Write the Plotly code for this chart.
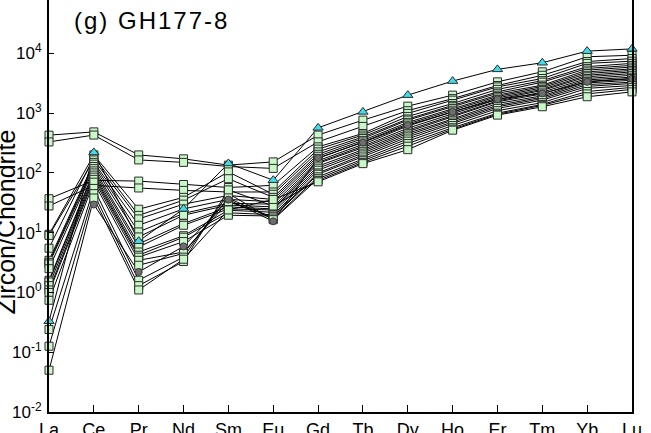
import plotly.graph_objects as go

# Chondrite-normalised REE patterns of zircon spots, sample GH177-8
elements = ["La", "Ce", "Pr", "Nd", "Sm", "Eu", "Gd", "Tb", "Dy", "Ho", "Er", "Tm", "Yb", "Lu"]

spot_01 = [428, 486, 200, 172, 135, 153, 430, 764, 1310, 2000, 3340, 4920, 8780, 9300]
spot_02 = [330, 430, 165, 150, 128, 119, 331, 600, 1100, 1750, 2900, 4300, 7300, 8200]
spot_03 = [37, 75, 73, 64, 57, 62, 273, 457, 990, 1650, 2750, 3800, 6800, 7400]
spot_04 = [28, 62, 56, 51, 48, 48, 250, 430, 880, 1450, 2500, 3500, 6000, 6800]
spot_05 = [9.4, 200, 24.7, 39, 104, 44, 225, 400, 800, 1350, 2270, 3300, 5600, 6300]
spot_06 = [5.5, 185, 19.5, 35, 80, 39, 205, 377, 764, 1280, 2150, 2940, 5250, 5900]
spot_07 = [9.0, 165, 17, 30, 42, 36, 190, 350, 700, 1200, 2000, 2800, 4900, 5500]
spot_08 = [3.45, 150, 13.3, 25, 36, 33, 175, 330, 660, 1120, 1900, 2650, 4600, 5200]
spot_09 = [3.2, 140, 10.3, 21, 31, 30, 160, 300, 610, 1050, 1800, 2500, 4300, 4900]
spot_10 = [3.0, 128, 8.5, 19.6, 29, 27, 150, 280, 560, 980, 1700, 2400, 4060, 4600]
spot_11 = [2.5, 118, 6.5, 14.2, 27, 25, 144, 265, 519, 920, 1600, 2250, 3800, 4300]
spot_12 = [1.6, 108, 5.75, 13.3, 25, 24, 130, 245, 490, 867, 1550, 2100, 3600, 4000]
spot_13 = [1.5, 100, 4.75, 8.9, 23.7, 22, 120, 230, 460, 800, 1450, 1950, 3400, 3800]
spot_14 = [1.3, 92, 4.2, 8.4, 21.5, 20, 111, 215, 430, 760, 1350, 1850, 3200, 3550]
spot_15 = [1.1, 85, 3.9, 7.1, 19.6, 19, 100, 200, 401, 710, 1280, 1750, 3000, 3300]
spot_16 = [1.0, 78, 3.45, 4.75, 33, 18.3, 95, 185, 370, 671, 1200, 1650, 2800, 3140]
spot_17 = [0.74, 70, 2.85, 4.5, 38, 17, 86, 170, 340, 620, 1100, 1500, 2600, 2900]
spot_18 = [0.24, 55, 1.6, 3.9, 45, 16.5, 80, 160, 310, 570, 1000, 1400, 2300, 2700]
spot_19 = [0.126, 45, 1.3, 3.3, 52, 28, 75, 150, 280, 540, 960, 1350, 2100, 2500]
spot_20 = [0.05, 38, 1.1, 3.6, 24, 36, 71, 143, 245, 519, 927, 1280, 1880, 2270]

# grey-circle and cyan-triangle spots
spot_circle = [None, 29.6, 2.2, 5.9, 35.8, 15.5, 178, 323, 630, 1050, 1710, 2140, 3340, 3760]
spot_triangle = [0.33, 220, 7.2, 25, 144, 75.6, 568, 1050, 2000, 3440, 5400, 6970, 10900, 11900]

# y-axis decades and their labels
y_tickvals = [0.01, 0.1, 1, 10, 100, 1000, 10000]
y_ticktext = ["10<sup>-2</sup>", "10<sup>-1</sup>", "10<sup>0</sup>", "10<sup>1</sup>",
              "10<sup>2</sup>", "10<sup>3</sup>", "10<sup>4</sup>"]

square_spots = [spot_01, spot_02, spot_03, spot_04, spot_05, spot_06, spot_07, spot_08,
                spot_09, spot_10, spot_11, spot_12, spot_13, spot_14, spot_15, spot_16,
                spot_17, spot_18, spot_19, spot_20]

x_pos = list(range(len(elements)))
FONT = "Liberation Sans, Arial, sans-serif"

fig = go.Figure()

all_spots = square_spots + [spot_circle, spot_triangle]

# connecting lines first, so every marker sits above every line
for s in all_spots:
    fig.add_trace(go.Scatter(x=x_pos, y=s, mode="lines", connectgaps=False,
                             line=dict(color="black", width=1),
                             showlegend=False, hoverinfo="skip", cliponaxis=False))

for s in square_spots:
    fig.add_trace(go.Scatter(x=x_pos, y=s, mode="markers", showlegend=False, cliponaxis=False,
                             marker=dict(symbol="square", size=8, color="#c8f7c8",
                                         line=dict(color="#2b2b2b", width=1))))

fig.add_trace(go.Scatter(x=x_pos, y=spot_circle, mode="markers", showlegend=False, cliponaxis=False,
                         marker=dict(symbol="circle", size=7, color="#6e6e6e",
                                     line=dict(color="#3a3a3a", width=1))))
fig.add_trace(go.Scatter(x=x_pos, y=spot_triangle, mode="markers", showlegend=False, cliponaxis=False,
                         marker=dict(symbol="triangle-up", size=9, color="#3fdcec",
                                     line=dict(color="#2b2b2b", width=1))))

fig.update_layout(
    width=651, height=433,
    margin=dict(l=49, r=19, t=0, b=21, autoexpand=False),
    paper_bgcolor="white", plot_bgcolor="white",
    font=dict(family=FONT, color="black"),
    xaxis=dict(range=[0, 13], tickvals=x_pos, ticktext=elements,
               ticks="inside", ticklen=7, tickwidth=1, tickcolor="black",
               showline=True, linewidth=2, linecolor="black", mirror=False,
               showgrid=False, zeroline=False, tickfont=dict(size=18, family=FONT),
               automargin=False, ticklabelstandoff=0),
    yaxis=dict(type="log", range=[-2, 4.893], tickvals=y_tickvals, ticktext=y_ticktext,
               ticks="inside", ticklen=5, tickwidth=1, tickcolor="black",
               showline=True, linewidth=2, linecolor="black", mirror=True,
               showgrid=False, zeroline=False, tickfont=dict(size=17, family=FONT),
               automargin=False, ticklabelstandoff=2),
    annotations=[
        dict(text="(g) GH177-8", xref="paper", yref="paper", x=0.0596, y=0.9866,
             xanchor="left", yanchor="top", showarrow=False, borderpad=0,
             font=dict(size=24, family=FONT)),
        dict(text="Zircon/Chondrite", xref="paper", yref="paper", x=-0.073, y=0.461,
             xanchor="center", yanchor="middle", textangle=-90, showarrow=False,
             borderpad=0, font=dict(size=25, family=FONT)),
    ],
)

# widen the tracking of the panel title
title_spacing = (
    "document.querySelectorAll('.annotation[data-index=\"0\"] .annotation-text')"
    ".forEach(function(t){t.style.letterSpacing='2px';});"
)

fig.write_html("out.html", post_script=title_spacing)
